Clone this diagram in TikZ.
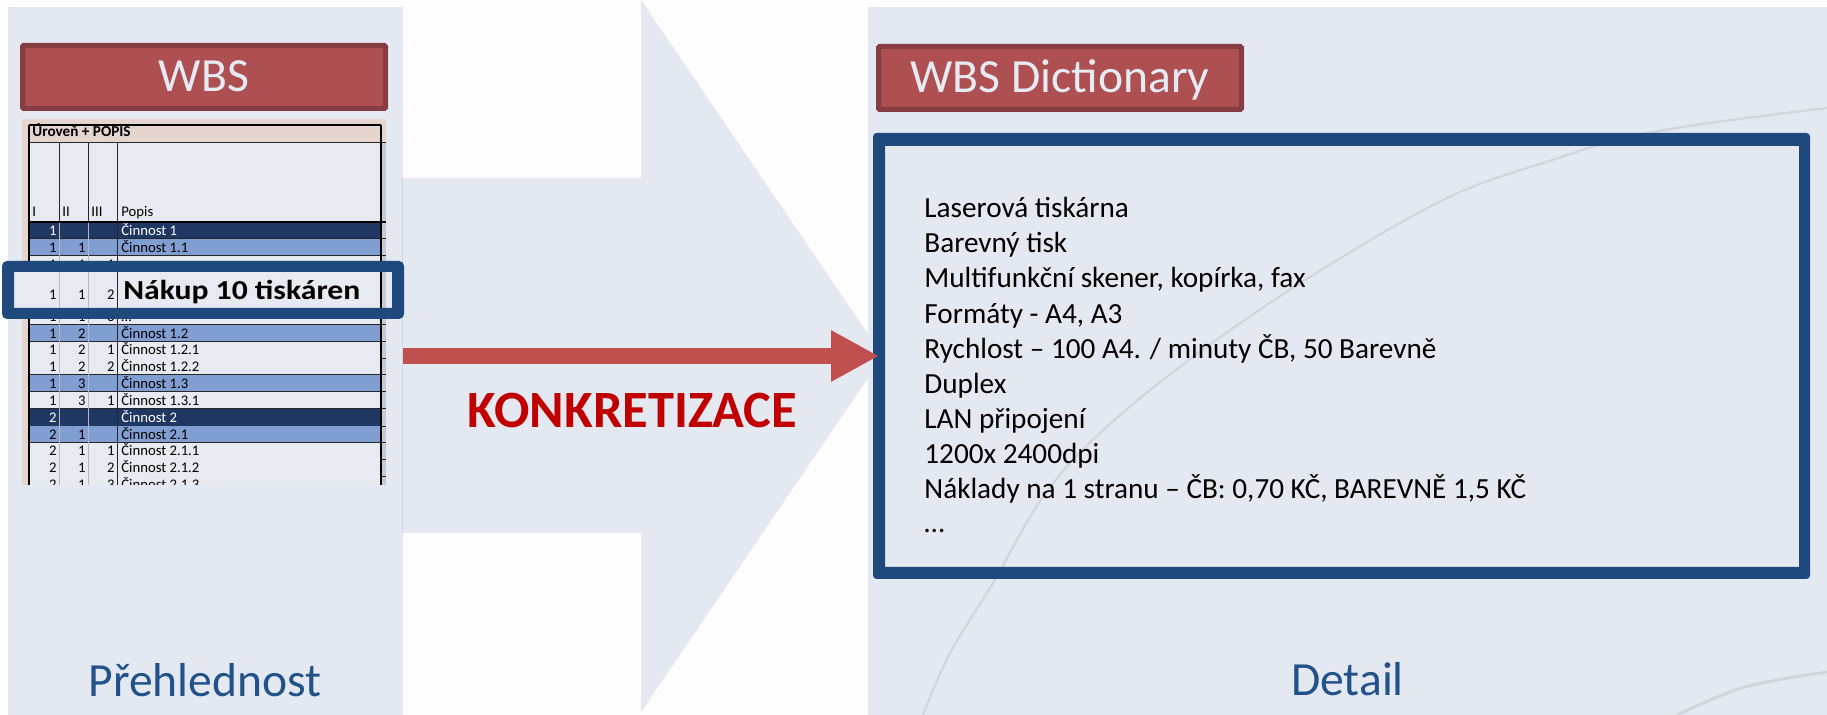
\documentclass[tikz,border=0pt]{standalone}
\usepackage{fontspec}
\setmainfont{Carlito}
\usetikzlibrary{arrows.meta}
\definecolor{bgwhite}{HTML}{FDFDFD}
\definecolor{panel}{HTML}{E4E8F0}
\definecolor{hdrfill}{HTML}{AE5052}
\definecolor{hdrdraw}{HTML}{863C43}
\definecolor{hdrtext}{HTML}{E6EAF2}
\definecolor{navy}{HTML}{1F497D}
\definecolor{rowdark}{HTML}{203764}
\definecolor{rowlight}{HTML}{809ED2}
\definecolor{rowwhite}{HTML}{E7EAF0}
\definecolor{pinkish}{HTML}{E6D4CF}
\definecolor{stripgrey}{HTML}{C6CAD2}
\definecolor{redarrow}{HTML}{C0504D}
\definecolor{kred}{HTML}{C00000}
\definecolor{titleblue}{HTML}{22528A}
\definecolor{arcgrey}{HTML}{D2D5DB}
\definecolor{lightgrid}{HTML}{B4B8C0}
\begin{document}
\begin{tikzpicture}[x=0.5pt,y=-0.5pt,
  panelnode/.style={fill=panel, draw=none, inner sep=0pt, outer sep=0pt},
  hdrbox/.style={draw=hdrdraw, fill=hdrfill, line width=2.5pt, rounded corners=0.6pt,
    minimum width=181.5pt, minimum height=31.5pt, inner sep=0pt, text=hdrtext,
    font=\fontsize{23.8pt}{28pt}\selectfont, text height=15pt, text depth=0pt},
  framebox/.style={draw=none, fill=none, inner sep=0pt, outer sep=0pt},
  dictline/.style={anchor=base west, inner sep=0pt, text=black,
    font=\fontsize{14.6pt}{17.5pt}\selectfont},
  sidetitle/.style={anchor=base, inner sep=0pt, text=titleblue,
    font=\fontsize{23.8pt}{28pt}\selectfont},
  cell/.style={inner sep=0pt, font=\fontsize{7.35pt}{9pt}\selectfont},
  gridline/.style={draw=black!85, line width=0.5pt},
  softgrid/.style={draw=lightgrid, line width=0.4pt},
  arcline/.style={draw=arcgrey, line width=1.1pt},
  redarr/.style={draw=redarrow, line width=8pt, -{Triangle[length=24pt,width=24pt]}}
]
\useasboundingbox (0,0) rectangle (1827,715);
\fill[bgwhite] (0,0) rectangle (1827,715);

% panels
\node[panelnode, minimum width=197.5pt, minimum height=354pt] (leftpanel) at (205.5,361) {};
\node[panelnode, minimum width=479.5pt, minimum height=354pt] (rightpanel) at (1347.5,361) {};

% big background arrow
\fill[panel] (402,178) -- (641,178) -- (641,0) -- (883,356) -- (641,712) -- (641,533) -- (402,533) -- cycle;
\draw[draw=arcgrey, line width=0.5pt] (402,178) -- (402,533);

% decorative arcs
\draw[arcline] plot[smooth, tension=0.6] coordinates {(1827,108) (1653,132) (1543,163) (1443,200) (1310,277) (1193,357) (1100,433) (1043,497) (993,583) (950,653) (923,715)};
\draw[arcline, line width=1.5pt] plot[smooth, tension=0.6] coordinates {(1827,672) (1745,687) (1677,715)};

% header boxes
\node[hdrbox] (wbsbox) at (204,77) {WBS};
\node[hdrbox] (dictheader) at (1060,78) {WBS Dictionary};

% ---------- table ----------
\begin{scope}
\clip (22,119) rectangle (386,485);
\fill[pinkish] (22,119) rectangle (386,485);
\fill[stripgrey] (381,143) rectangle (386,485);
\fill[pinkish] (29,125) rectangle (381,143);
\fill[rowwhite] (29,143) rectangle (381,222);
\node[cell, anchor=base west, font=\fontsize{7.6pt}{9pt}\selectfont\bfseries] (hdrtxt) at (32,137) {Úroveň + POPIS};
\node[cell, anchor=base west] (hI) at (32,217) {I};
\node[cell, anchor=base west] (hII) at (62,217) {II};
\node[cell, anchor=base west] (hIII) at (91,217) {III};
\node[cell, anchor=base west] (hPopis) at (121,217) {Popis};
\foreach \yt/\yb/\fc/\tc/\ca/\cb/\cc/\tx [count=\i] in {
  222/239/rowdark/white/1/{}/{}/Činnost 1,
  239/256/rowlight/black/1/1/{}/Činnost 1.1,
  256/273/rowwhite/black/1/1/1/…,
  273/308/rowwhite/black/{}/{}/{}/{},
  308/325/rowwhite/black/1/1/3/…,
  325/342/rowlight/black/1/2/{}/Činnost 1.2,
  342/358.5/rowwhite/black/1/2/1/Činnost 1.2.1,
  358.5/375/rowwhite/black/1/2/2/Činnost 1.2.2,
  375/392/rowlight/black/1/3/{}/Činnost 1.3,
  392/409/rowwhite/black/1/3/1/Činnost 1.3.1,
  409/426.5/rowdark/white/2/{}/{}/Činnost 2,
  426.5/443/rowlight/black/2/1/{}/Činnost 2.1,
  443/459.5/rowwhite/black/2/1/1/Činnost 2.1.1,
  459.5/476.5/rowwhite/black/2/1/2/Činnost 2.1.2,
  476.5/493/rowwhite/black/2/1/3/Činnost 2.1.3}
{
  \fill[\fc] (29,\yt) rectangle (381,\yb);
  \draw[gridline] (29,\yb) -- (386,\yb);
  \node[cell, text=\tc, anchor=base east] (ca\i) at (57,\yb-3.5) {\ca};
  \node[cell, text=\tc, anchor=base east] (cb\i) at (86,\yb-3.5) {\cb};
  \node[cell, text=\tc, anchor=base east] (cc\i) at (115,\yb-3.5) {\cc};
  \node[cell, text=\tc, anchor=base west] (tx\i) at (121,\yb-3.5) {\tx};
}
\draw[softgrid] (59,222) -- (59,485) (88,222) -- (88,485);
\draw[gridline] (59,143) -- (59,222) (88,143) -- (88,222) (117,143) -- (117,485);
\draw[gridline] (29,143) -- (386,143);
\draw[draw=black, line width=0.8pt] (29,222) -- (386,222);
\draw[draw=black, line width=0.8pt] (29,125) -- (381,125) (29,125) -- (29,485) (381,125) -- (381,485);
\end{scope}

% highlighted row
\node[framebox, minimum width=201pt, minimum height=29pt] (hl) at (203,290) {};
\fill[rowwhite] ([shift={(12,11)}]hl.north west) rectangle ([shift={(-12,-11)}]hl.south east);
\fill[stripgrey] (381,272) rectangle (386,308);
\draw[softgrid] (59,272) -- (59,308) (88,272) -- (88,308);
\draw[gridline] (117,272) -- (117,308);
\draw[draw=black, line width=0.8pt] (381,272) -- (381,308);
\fill[navy, even odd rule] [rounded corners=2.5pt] (hl.north west) rectangle (hl.south east)
  [sharp corners] ([shift={(12,11)}]hl.north west) rectangle ([shift={(-12,-11)}]hl.south east);
\node[cell, anchor=base east] (hla) at (57,300) {1};
\node[cell, anchor=base east] (hlb) at (86,300) {1};
\node[cell, anchor=base east] (hlc) at (115,300) {2};
\node[inner sep=0pt, anchor=base west, font=\fontsize{13.75pt}{16pt}\selectfont\bfseries] (nakup) at (123,300) {\scalebox{1.15}[1]{Nákup 10 tiskáren}};

% dictionary box and text
\node[framebox, minimum width=468.5pt, minimum height=223pt] (dict) at (1341.5,356) {};
\fill[navy, even odd rule] [rounded corners=1.8pt] (dict.north west) rectangle (dict.south east)
  [sharp corners] ([shift={(12,13)}]dict.north west) rectangle ([shift={(-11,-12)}]dict.south east);
\node[dictline] (d1) at (924,218) {Laserová tiskárna};
\node[dictline] (d2) at (924,253) {Barevný tisk};
\node[dictline] (d3) at (924,288) {Multifunkční skener, kopírka, fax};
\node[dictline] (d4) at (924,323.5) {Formáty - A4, A3};
\node[dictline] (d5) at (924,358.5) {Rychlost – 100 A4. / minuty ČB, 50 Barevně};
\node[dictline] (d6) at (924,393.5) {Duplex};
\node[dictline] (d7) at (924,428.5) {LAN připojení};
\node[dictline] (d8) at (924,463.5) {1200x 2400dpi};
\node[dictline] (d9) at (924,498.5) {Náklady na 1 stranu – ČB: 0,70 KČ, BAREVNĚ 1,5 KČ};
\node[dictline] (d10) at (924,533) {…};

% red arrow
\draw[redarr, shorten >=-3pt] (leftpanel.east |- dict.west) -- (dict.west);
\node[anchor=base, inner sep=0pt, text=kred, font=\fontsize{26.2pt}{30pt}\selectfont\bfseries] (konk) at (632.5,428) {KONKRETIZACE};

% bottom titles
\node[sidetitle] (prehled) at (205,697) {Přehlednost};
\node[sidetitle] (detail) at (1347.5,696) {Detail};
\end{tikzpicture}
\end{document}
